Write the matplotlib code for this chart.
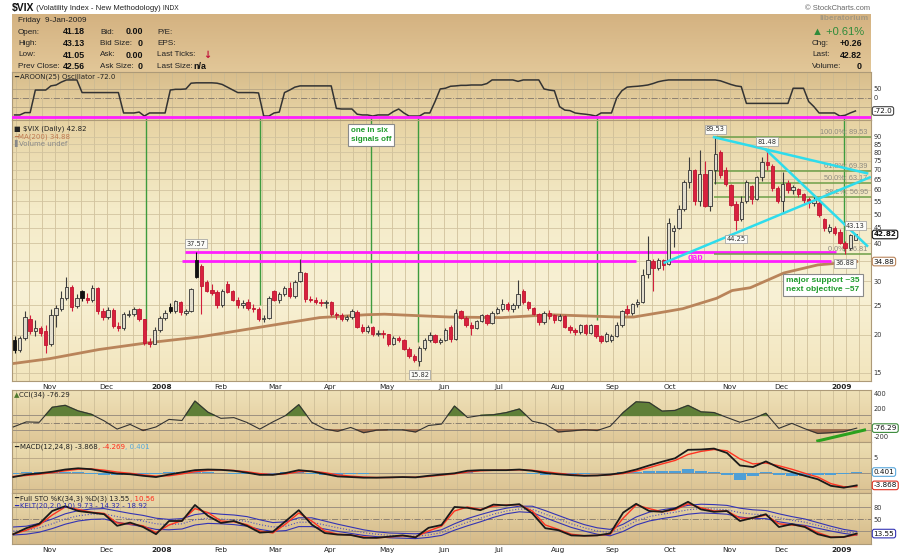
import numpy as np
import pandas as pd
import matplotlib
matplotlib.use("Agg")
import matplotlib.pyplot as plt
from matplotlib.colors import LinearSegmentedColormap

plt.rcParams["font.family"] = ["DejaVu Sans"]

# ---------------- values ----------------
# two-day candles from 12-Oct-2007 to 9-Jan-2009, one line per month
opens = [
    19.3, 17.9, 19.6, 22.6, 20.6, 21.0, 20.6,
    18.6, 23.2, 24.4, 26.4, 28.8, 24.9, 27.8, 26.5, 26.0, 28.5, 24.0,
    22.9, 24.2, 21.4, 21.0, 23.3, 23.4, 24.3, 22.5, 19.0, 18.7,
    20.8, 22.8, 24.8, 24.0, 25.6, 23.6, 24.0, 35.2, 33.8, 29.8, 28.2, 27.6,
    25.0, 29.5, 27.8, 26.1, 25.0, 25.6, 24.6, 24.3, 22.6, 22.8,
    27.8, 26.1, 27.3, 28.6, 26.8, 30.0, 32.0, 26.2, 26.0, 25.6, 25.4,
    25.6, 23.4, 23.2, 22.6, 22.9, 23.8, 21.3, 20.6, 21.2, 20.2, 20.3,
    20.1, 18.7, 19.5, 19.2, 18.0, 17.0, 16.4, 18.1, 19.3, 20.0, 19.0,
    19.3, 21.3, 19.4, 24.0, 22.8, 21.6, 21.0, 22.2, 23.2, 21.9,
    23.6, 24.3, 25.2, 24.4, 25.0, 27.8, 25.6, 24.5, 23.5, 22.0, 23.6, 23.2,
    22.4, 23.1, 21.3, 20.7, 20.4, 21.5, 20.3, 21.5, 19.8, 19.1, 19.3,
    19.9, 21.6, 24.4, 23.6, 25.2, 25.7, 31.8, 35.0, 33.2, 35.2, 34.2,
    44.0, 45.1, 52.1, 63.9, 70.0, 55.0, 67.6, 53.1, 69.6, 80.0, 69.9,
    62.5, 54.0, 48.0, 55.0, 62.0, 56.1, 66.3, 74.3, 72.0, 60.9,
    55.0, 63.5, 59.9, 60.5, 58.0, 56.0, 54.3, 54.3, 48.0, 43.8, 45.0, 43.5,
    40.0, 38.6, 41.18,
]
highs = [
    19.8, 19.9, 23.9, 23.2, 22.4, 21.4, 21.6,
    24.4, 25.0, 28.0, 31.1, 29.2, 27.3, 28.2, 27.5, 29.1, 28.8, 24.5,
    24.8, 24.5, 22.0, 23.8, 24.1, 24.8, 24.5, 22.6, 19.5, 21.2,
    23.1, 24.1, 25.4, 26.1, 25.9, 24.4, 28.6, 37.57, 34.2, 30.4, 29.5, 28.2,
    28.4, 30.0, 28.2, 26.6, 26.0, 26.2, 25.3, 24.8, 23.3, 26.8,
    28.2, 27.6, 29.0, 29.9, 30.4, 35.6, 32.3, 26.8, 26.6, 26.2, 26.1,
    25.8, 23.8, 23.6, 23.3, 24.4, 24.1, 21.7, 21.5, 21.4, 20.7, 20.8,
    20.2, 19.8, 19.9, 19.4, 18.2, 17.3, 18.4, 19.6, 20.4, 20.2, 19.6,
    21.0, 21.6, 24.3, 24.2, 23.0, 22.0, 22.4, 23.5, 23.4, 24.0,
    24.8, 26.2, 25.6, 25.5, 30.3, 28.3, 25.9, 24.8, 23.6, 24.0, 24.1, 23.4,
    23.4, 23.3, 21.5, 21.0, 21.8, 21.7, 21.7, 21.6, 20.0, 20.4, 20.2,
    22.0, 24.2, 25.0, 25.5, 26.2, 33.0, 42.2, 35.6, 35.8, 35.5, 48.4,
    46.0, 53.7, 64.9, 76.9, 70.3, 81.2, 74.6, 70.0, 89.53, 81.2, 71.5,
    63.0, 55.0, 57.5, 64.5, 62.5, 66.8, 77.0, 81.48, 73.0, 62.0,
    68.6, 64.5, 62.5, 61.0, 58.5, 57.0, 57.5, 55.5, 48.5, 46.5, 45.5, 44.5,
    40.8, 43.0, 43.13,
]
lows = [
    17.4, 17.6, 19.2, 20.1, 19.8, 19.9, 17.5,
    18.4, 21.2, 23.9, 26.0, 24.0, 24.5, 25.9, 25.5, 25.6, 23.4, 22.4,
    22.6, 21.0, 20.6, 20.8, 22.9, 23.0, 22.3, 18.5, 18.3, 18.6,
    20.5, 22.4, 23.6, 23.6, 23.3, 23.2, 23.8, 30.8, 23.5, 27.6, 27.0, 24.5,
    24.8, 27.4, 25.8, 24.5, 24.6, 24.2, 23.8, 22.3, 22.0, 22.5,
    25.8, 25.5, 26.9, 26.5, 26.4, 29.8, 25.7, 25.6, 25.2, 24.9, 24.6,
    23.0, 22.6, 22.3, 22.2, 22.6, 21.0, 20.3, 20.3, 19.9, 19.8, 19.6,
    18.4, 18.5, 18.9, 17.8, 16.8, 16.3, 15.82, 17.9, 19.0, 18.8, 18.6,
    19.1, 19.0, 19.2, 22.5, 21.3, 20.0, 20.9, 22.0, 21.5, 21.8,
    23.4, 24.0, 24.0, 23.8, 24.6, 25.3, 24.2, 23.2, 21.6, 21.8, 22.6, 21.9,
    22.2, 21.0, 20.3, 20.0, 20.1, 20.0, 20.1, 19.6, 18.8, 19.0, 19.0,
    19.7, 21.3, 23.2, 23.2, 24.8, 25.4, 30.8, 28.0, 32.6, 32.8, 34.0,
    38.8, 44.8, 51.0, 61.0, 53.5, 53.0, 52.8, 51.2, 63.0, 65.5, 62.0,
    53.0, 44.25, 47.5, 54.5, 54.0, 55.5, 64.0, 70.0, 59.5, 54.5,
    50.5, 58.5, 58.0, 57.0, 54.5, 52.5, 53.0, 49.0, 44.0, 43.2, 42.5, 39.8,
    36.88, 38.2, 41.05,
]
closes = [
    17.8, 19.6, 22.9, 20.6, 21.0, 20.3, 18.5,
    23.2, 24.5, 26.5, 28.8, 24.8, 26.4, 26.5, 26.0, 28.6, 24.0, 22.9,
    24.2, 21.4, 21.0, 23.5, 23.5, 24.4, 22.6, 18.8, 18.6, 20.8,
    22.8, 23.6, 24.0, 25.8, 23.8, 24.0, 28.3, 31.0, 29.0, 28.0, 27.5, 25.0,
    28.0, 27.7, 26.1, 25.0, 25.5, 24.6, 24.4, 22.6, 22.8, 26.5,
    26.1, 27.3, 28.6, 26.8, 29.9, 32.2, 26.2, 26.1, 25.6, 25.4, 25.6,
    23.4, 23.2, 22.6, 22.9, 23.9, 21.3, 20.6, 21.2, 20.2, 20.3, 20.1,
    18.7, 19.5, 19.2, 18.0, 17.0, 16.5, 18.1, 19.3, 20.0, 19.0, 19.3,
    20.7, 19.4, 23.6, 22.8, 21.6, 21.0, 22.2, 23.2, 21.9, 23.6,
    24.3, 25.2, 24.4, 25.0, 27.2, 25.6, 24.5, 23.5, 22.0, 23.6, 23.1, 22.4,
    23.1, 21.3, 20.7, 20.4, 21.5, 20.3, 21.5, 19.8, 19.1, 20.1, 19.9,
    21.6, 23.9, 23.6, 25.2, 25.7, 31.5, 35.4, 33.2, 35.2, 34.0, 46.7,
    45.1, 52.1, 63.9, 69.95, 55.0, 67.6, 53.0, 69.6, 79.1, 67.0, 62.9,
    53.7, 47.7, 54.6, 63.7, 56.1, 66.0, 74.3, 72.7, 60.9, 55.3,
    62.8, 59.9, 61.5, 58.0, 55.5, 54.3, 55.8, 49.8, 44.9, 45.2, 43.4, 40.0,
    38.6, 42.6, 42.82,
]
# Aroon(25) oscillator, one value per candle
aroon = [
    -94, -94, -81, -81, 44, 44, 44,
    67, 72, 88, 100, 100, 100, 30, 30, 30, 30, 30,
    30, 30, 30, -83, -83, -83, -78, -100, -83, -83,
    -83, -83, 44, 48, 48, 50, 82, 84, 84, 84, 84, 82,
    75, 60, 45, 30, 30, 30, 30, 28, -100, -100,
    -83, -78, 30, 44, 60, 67, 67, 67, 67, 67, 67,
    67, -58, -61, -61, -61, -90, -94, -94, -100, -94, -94,
    -94, -75, -61, -83, -100, -100, -100, -83, -83, -20, 50,
    54, 65, 67, 70, 70, 72, 72, 72, 80, 100,
    100, 100, 100, 100, 92, 100, 100, 100, 100, 50, 44, 40,
    -48, -67, -70, -83, -87, -90, -94, -100, -83, -83, -83,
    0, 40, 60, 63, 65, 68, 72, 80, 90, 96, 100,
    100, 100, 100, 100, 100, 100, 100, 100, 100, 95, 85,
    75, 67, 63, -30, -30, -30, -30, -30, -30, -30,
    -30, -30, 54, 54, 54, -20, -48, -83, -83, -83, -83, -100,
    -96, -83, -72,
]

ma_dates = ["2007-10-12", "2007-11-01", "2007-11-28", "2007-12-24", "2008-01-22",
            "2008-02-27", "2008-03-26", "2008-04-21", "2008-04-30", "2008-06-04",
            "2008-07-02", "2008-07-29", "2008-09-03", "2008-09-11", "2008-09-30",
            "2008-10-08", "2008-10-27", "2008-11-04", "2008-11-13", "2008-12-02",
            "2008-12-19", "2009-01-09"]
ma200 = [16.1, 16.7, 17.9, 18.8, 19.7, 21.4, 22.8, 23.3, 23.4, 22.9, 22.8, 23.3,
         22.9, 22.9, 23.9, 24.4, 26.4, 28.0, 28.6, 32.0, 34.0, 34.88]

# weekly (Friday) readings of the lower indicators
cci = [-60, 10, 5, 214, 241, 163, 117, 25, -90, -25, -110, -60, 45, 30, 300, 145,
       60, 70, 3, -90, 10, 100, 250, 5, -90, -120, -67, -140, -105, -99, -100, -130,
       -40, -20, 230, 72, 100, 110, 140, 190, 20, -20, -130, -115, -100, -110, -50,
       140, 290, 280, 160, 170, 240, 150, 140, 72, 5, 55, 130, -80, -10, -85, -150,
       -140, -125, -76.29]
macd = [-1.2, -0.4, 0.0, 0.5, 1.2, 1.6, 1.3, 0.5, -0.1, -0.3, -0.8, -1.2, -0.4, 0.3,
        1.0, 1.2, 1.1, 0.8, 0.2, -0.5, -0.5, 0.1, 1.0, 0.6, -0.2, -1.0, -1.2, -1.4,
        -1.4, -1.3, -1.2, -1.3, -0.8, -0.4, 0.0, 0.8, 1.0, 1.0, 1.0, 1.2, 0.8, 0.1,
        -0.3, -0.6, -0.8, -0.7, -0.4, 0.2, 1.2, 2.5, 3.7, 4.8, 7.5, 7.6, 7.9, 6.5,
        2.5, 2.0, 3.8, 1.8, 0.4, -0.8, -1.9, -4.0, -4.6, -3.868]
macd_signal = [-1.0, -0.7, -0.3, 0.2, 0.8, 1.3, 1.4, 1.0, 0.4, 0.0, -0.5, -0.9, -0.8,
               -0.2, 0.5, 0.9, 1.1, 0.9, 0.5, -0.1, -0.4, -0.2, 0.5, 0.7, 0.2, -0.5,
               -0.9, -1.2, -1.35, -1.35, -1.25, -1.25, -1.0, -0.6, -0.2, 0.4, 0.8,
               0.95, 1.0, 1.1, 0.95, 0.5, 0.0, -0.4, -0.7, -0.7, -0.5, -0.1, 0.7, 1.8,
               3.0, 4.1, 6.0, 7.0, 7.6, 7.2, 4.6, 3.0, 3.3, 2.4, 1.3, 0.0, -1.2, -3.3,
               -4.3, -4.269]
sto_k = [12, 27, 38, 70, 82, 70, 66, 62, 33, 41, 30, 12, 45, 45, 85, 58, 40, 45, 33,
         16, 18, 45, 72, 36, 15, 11, 10, 3, 3, 6, 9, 4, 28, 35, 80, 78, 72, 86, 84,
         87, 64, 27, 22, 9, 8, 9, 14, 66, 88, 70, 68, 76, 93, 74, 68, 70, 45, 53, 62,
         30, 37, 30, 12, 4, 5, 13.55]
sto_d = [12, 22, 35, 60, 80, 74, 67, 64, 40, 38, 33, 16, 35, 46, 76, 66, 45, 43, 36,
         20, 15, 38, 65, 45, 20, 12, 10, 5, 3, 5, 8, 5, 20, 32, 70, 80, 74, 82, 85,
         86, 70, 35, 24, 12, 8, 9, 12, 52, 85, 76, 68, 73, 88, 78, 70, 70, 52, 52, 60,
         38, 35, 32, 16, 5, 5, 10.56]
kelt_mid = [20, 22, 28, 38, 50, 58, 62, 63, 56, 50, 45, 38, 36, 38, 48, 52, 50, 48,
            44, 36, 30, 32, 42, 42, 35, 28, 22, 16, 12, 9, 8, 7, 10, 16, 30, 42, 52,
            62, 70, 75, 74, 62, 50, 38, 28, 20, 16, 28, 45, 56, 62, 67, 73, 76, 75,
            73, 66, 62, 61, 53, 47, 42, 34, 26, 19, 14.32]
kelt_width = [10, 10, 11, 12, 13, 13, 13, 13, 14, 14, 14, 14, 13, 13, 13, 13, 12, 12,
              12, 12, 11, 11, 11, 11, 10, 9, 8, 7, 6, 6, 6, 6, 6, 7, 8, 9, 9, 8, 7, 7,
              8, 9, 9, 9, 8, 8, 8, 9, 10, 11, 11, 11, 11, 11, 11, 11, 11, 11, 10, 10,
              9, 8, 7, 6, 5, 4.6]

price_ticks = [15, 20, 25, 30, 40, 45, 50, 55, 60, 65, 70, 75, 80, 85, 90]
month_labels = ["Nov", "Dec", "2008", "Feb", "Mar", "Apr", "May", "Jun", "Jul",
                "Aug", "Sep", "Oct", "Nov", "Dec", "2009"]

# drawn annotations
fib_start = "2008-10-24"
fib_levels = [89.53, 69.39, 63.17, 56.95, 36.81]
fib_names = ["100.0%: 89.53", "61.8%: 69.39", "50.0%: 63.17", "38.2%: 56.95", "0.0%: 36.81"]
signal_dates = ["2007-12-24", "2008-02-22", "2008-04-23", "2008-05-19", "2008-08-22", "2009-01-02"]
signal_lows = [20.8, 25.1, 21.9, 18.9, 22.4, 37.8]
trend_lines = [(("2008-10-24", 89.53), ("2009-01-15", 68.1)),
               (("2008-11-21", 81.48), ("2009-01-15", 39.3)),
               (("2008-09-29", 34.6), ("2009-01-16", 66.0))]
gap_lines = [(37.57, "2008-01-14", "2008-12-30"),
             (34.9, "2008-01-11", "2008-09-12"),
             (34.9, "2008-09-29", "2008-12-26")]
peak_dates = ["2008-01-18", "2008-10-24", "2008-11-21", "2009-01-09"]
trough_dates = ["2008-05-19", "2008-11-05", "2009-01-02"]

# ---------------- layout ----------------
W, H = 900, 557
days = pd.bdate_range("2007-10-12", "2009-01-16")


def pos(d):
    return days.get_loc(pd.Timestamp(d))


bx = np.arange(len(closes)) * 2 + 0.5
wx = np.array([pos(d) for d in pd.date_range("2007-10-12", "2009-01-09", freq="W-FRI")])
mondays = [i for i, d in enumerate(days) if d.weekday() == 0]
month_pos = [pos(d) for d in pd.date_range("2007-11-01", "2009-01-01", freq="BMS")]
XL = (-0.5, 330.5)

fig = plt.figure(figsize=(9, 5.57), dpi=100)
fig.patch.set_facecolor("white")
grad = np.linspace(0, 1, 128).reshape(-1, 1)


def shade(rect, colors):
    bg = fig.add_axes(rect)
    bg.imshow(grad, cmap=LinearSegmentedColormap.from_list("bg", colors),
              aspect="auto", extent=(0, 1, 0, 1), interpolation="bilinear")
    bg.set_axis_off()


def panel(top, bottom, colors, ylim, log=False):
    rect = [12 / W, 1 - bottom / H, 859 / W, (bottom - top) / H]
    shade(rect, colors)
    ax = fig.add_axes(rect)
    ax.patch.set_visible(False)
    if log:
        ax.set_yscale("log")
    ax.set_ylim(ylim)
    ax.set_xlim(XL)
    for m in mondays:
        ax.axvline(m, color="#c9b993", lw=0.5, zorder=1)
    ax.yaxis.tick_right()
    ax.tick_params(length=0, labelsize=4.8, labelcolor="#333333", pad=2)
    ax.set_xticks([])
    for s in ax.spines.values():
        s.set_color("#ad9a78")
        s.set_linewidth(0.8)
    return ax


def tag(ax, y, s, ec, weight="normal"):
    ax.text(1.003, y, s, transform=ax.get_yaxis_transform(), ha="left", va="center",
            fontsize=5.2, color="#111111", weight=weight, clip_on=False, zorder=9,
            bbox=dict(boxstyle="round,pad=0.18,rounding_size=0.3", fc="white", ec=ec, lw=0.8))


def month_axis(ax):
    ax.set_xticks(month_pos, month_labels)
    ax.tick_params(axis="x", labelsize=5.3, pad=2, labelcolor="#222222")
    for lab in ax.get_xticklabels():
        if lab.get_text().startswith("20"):
            lab.set_fontweight("bold")


# info box
shade([12 / W, 1 - 72 / H, 859 / W, 58 / H], ["#d4b281", "#e2c798"])

# Aroon panel
aa = panel(72, 120, ["#d8bd8b", "#e9d6a8"], (-122, 144))
aa.set_yticks([50, 0], ["50", "0"])
aa.axhline(50, color="#b5a383", lw=0.6)
aa.axhline(0, color="#8c8070", lw=0.7, ls="-.")
aa.axhline(-50, color="#b5a383", lw=0.6)
aa.plot(bx, aroon, color="#333333", lw=1.1, zorder=3)
aa.axhline(-103, color="#ff1eff", lw=2, zorder=4)
aa.vlines([pos(d) for d in signal_dates], -122, -103, color="#3d9b3d", lw=1, zorder=3)
tag(aa, -72, "-72.0", "#444444")

# price panel
ax = panel(120, 381, ["#e7d3a3", "#f4ebc8", "#f8f1d5", "#f2e5bd"], (14.1, 102), log=True)
ax.set_yticks(price_ticks, [str(t) for t in price_ticks])
ax.minorticks_off()
for t in price_ticks + [35]:
    ax.axhline(t, color="#d2c4a0", lw=0.6, zorder=1)
month_axis(ax)

ax.plot([pos(d) for d in ma_dates], ma200, color="#b9845a", lw=2, zorder=2.5)
ax.vlines([pos(d) for d in signal_dates], signal_lows, 102, color="#3d9b3d", lw=1, zorder=2.4)
for lvl, d0, d1 in gap_lines:
    ax.hlines(lvl, pos(d0), pos(d1), color="#ff1eff", lw=2, zorder=2.6)
ax.hlines(fib_levels, pos(fib_start), XL[1], color="#6e9f48", lw=1.1, zorder=2.6)
for lvl, name in zip(fib_levels, fib_names):
    ax.annotate(name, xy=(XL[1] - 1.3, lvl), xytext=(0, 1), textcoords="offset pixels",
                ha="right", va="bottom", fontsize=5.3, color="#8e8a80", family="Liberation Sans", zorder=2.7)

o, h, l, c = map(np.array, (opens, highs, lows, closes))
prev = np.r_[c[0], c[:-1]]
hollow = c >= o
red = ~hollow & (c < prev)
black = ~hollow & ~red
for mask, wick, face, edge in [(hollow, "#3c3c3c", "#e2ddcd", "#333333"),
                               (red, "#d21f3c", "#d8213e", "#c01530"),
                               (black, "#111111", "#111111", "#111111")]:
    ax.vlines(bx[mask], l[mask], h[mask], color=wick, lw=0.8, zorder=3)
    ax.bar(bx[mask], np.abs(c - o)[mask], bottom=np.minimum(o, c)[mask], width=1.3,
           facecolor=face, edgecolor=edge, lw=0.6, zorder=4)

for (d0, v0), (d1, v1) in trend_lines:
    ax.plot([pos(d0), pos(d1)], [v0, v1], color="#2edcec", lw=1.8, zorder=5)

box = dict(boxstyle="square,pad=0.2", fc="#fbfbf7", ec="#9a9a9a", lw=0.5)
for d in peak_dates:
    i = pos(d) // 2
    ax.annotate(f"{h[i]:.2f}", xy=(bx[i], h[i]), xytext=(0, 8), textcoords="offset pixels",
                ha="center", va="center", fontsize=4.8, color="#333333", bbox=box, zorder=7)
for d in trough_dates:
    i = pos(d) // 2
    ax.annotate(f"{l[i]:.2f}", xy=(bx[i], l[i]), xytext=(0, -9), textcoords="offset pixels",
                ha="center", va="center", fontsize=4.8, color="#333333", bbox=box, zorder=7)

note = dict(boxstyle="square,pad=0.35", fc="white", ec="#8a8a8a", lw=0.8)
ax.text(pos("2008-04-23"), 91, "one in six\nsignals off", ha="center", va="center",
        fontsize=5.8, weight="bold", color="#1e9b2b", family="Liberation Sans",
        linespacing=1.3, multialignment="left", bbox=note, zorder=8)
ax.text(pos("2008-12-23"), 29.2, "major support ~35\nnext objective ~57", ha="center",
        va="center", fontsize=6, weight="bold", color="#1e9b2b", family="Liberation Sans",
        linespacing=1.35, multialignment="left", bbox=note, zorder=8)
ax.text(pos("2008-10-15"), 35.9, "gap", ha="center", va="center", fontsize=6.3,
        weight="bold", color="#ff1eff", family="Liberation Sans", zorder=8)
tag(ax, 42.82, "42.82", "#111111", weight="bold")
tag(ax, 34.88, "34.88", "#b9845a")

# CCI panel
ca = panel(390, 442, ["#efe1b8", "#dfc797"], (-270, 455))
ca.set_yticks([400, 200, -200], ["400", "200", "-200"])
ca.axhline(100, color="#9c9080", lw=0.7)
ca.axhline(-100, color="#9c9080", lw=0.7)
ca.axhline(0, color="#8c8070", lw=0.7, ls="-.")
cc = np.array(cci)
ca.fill_between(wx, 100, cc, where=cc > 100, interpolate=True, color="#5f7f38", zorder=2)
ca.fill_between(wx, -100, cc, where=cc < -100, interpolate=True, color="#9a6a4c", zorder=2)
ca.plot(wx, cc, color="#333333", lw=0.8, zorder=3)
ca.plot([pos("2008-12-19"), pos("2009-01-14")], [-255, -103], color="#2aa11e", lw=2.2, zorder=4)
tag(ca, -76.29, "-76.29", "#3a8a3a")

# MACD panel
ma = panel(442, 493, ["#ecdeb2", "#dbc292"], (-6.3, 10))
ma.set_yticks([5], ["5"])
ma.axhline(5, color="#b5a383", lw=0.6)
ma.axhline(0, color="#9c9080", lw=0.7)
ma.axhline(-5, color="#b5a383", lw=0.6)
hist = np.array(macd) - np.array(macd_signal)
ma.bar(wx, hist, width=4.4, color="#4f9fd6", zorder=2)
ma.plot(wx, macd_signal, color="#ff3322", lw=1.0, zorder=3)
ma.plot(wx, macd, color="#1a1a1a", lw=1.3, zorder=4)
tag(ma, 0.401, "0.401", "#5aa8dc")
tag(ma, -3.868, "-3.868", "#e03020")

# Full STO panel
sa = panel(493, 544, ["#eadbae", "#d5b988"], (-12.5, 115))
sa.set_yticks([80, 50], ["80", "50"])
sa.axhline(80, color="#9c9080", lw=0.7)
sa.axhline(50, color="#8c8070", lw=0.7, ls="-.")
sa.axhline(20, color="#9c9080", lw=0.7)
km, kw = np.array(kelt_mid), np.array(kelt_width)
sa.plot(wx, km + kw, color="#3434b4", lw=0.8, zorder=2)
sa.plot(wx, km - kw, color="#3434b4", lw=0.8, zorder=2)
sa.plot(wx, km, color="#5252c4", lw=0.8, ls=":", zorder=2)
sa.plot(wx, sto_d, color="#ff3322", lw=1.0, zorder=3)
sa.plot(wx, sto_k, color="#1a1a1a", lw=1.3, zorder=4)
month_axis(sa)
tag(sa, 13.55, "13.55", "#3434b4")

# ---------------- text overlay (pixel coordinates) ----------------
ov = fig.add_axes([0, 0, 1, 1])
ov.set_xlim(0, W)
ov.set_ylim(H, 0)
ov.set_axis_off()


def chain(x, y, parts, size=5.0, family="DejaVu Sans", weight="normal"):
    t = ov.text(x, y, parts[0][0], color=parts[0][1], fontsize=size, family=family,
                weight=weight, va="center", ha="left")
    for s, col in parts[1:]:
        t = ov.annotate(s, xy=(1, 0.5), xycoords=t, va="center", ha="left", color=col,
                        fontsize=size, family=family, weight=weight)
    return t


t = ov.text(12, 8, "$VIX", fontsize=7.5, weight="bold", family="Liberation Sans",
            va="center", color="#111111")
t = ov.annotate(" (Volatility Index - New Methodology)", xy=(1, 0.45), xycoords=t,
                va="center", fontsize=5.6, family="Liberation Sans", color="#222222")
ov.annotate(" INDX", xy=(1, 0.5), xycoords=t, va="center", fontsize=4.8,
            family="Liberation Sans", color="#222222")
ov.text(870, 8, "\u00a9 StockCharts.com", ha="right", va="center", fontsize=5.4,
        family="Liberation Sans", color="#666666")

info = dict(fontsize=5.9, family="Liberation Sans", va="center", color="#222222")
ov.text(18, 21, "Friday  9-Jan-2009", **info)
rows = [32, 43.5, 55, 66.5]
for y, a, av, b, bv, cl in zip(rows,
                               ["Open:", "High:", "Low:", "Prev Close:"],
                               ["41.18", "43.13", "41.05", "42.56"],
                               ["Bid:", "Bid Size:", "Ask:", "Ask Size:"],
                               ["0.00", "0", "0.00", "0"],
                               ["P/E:", "EPS:", "Last Ticks:", "Last Size:"]):
    ov.text(18, y, a, **info)
    ov.text(85, y, av, ha="right", weight="bold", fontsize=6.4, family="Liberation Sans",
            va="center", color="#111111")
    ov.text(100, y, b, **info)
    ov.text(143, y, bv, ha="right", weight="bold", fontsize=6.4, family="Liberation Sans",
            va="center", color="#111111")
    ov.text(157, y, cl, **info)
ov.text(203, 55, "\u2193", fontsize=7, weight="bold", color="#c0123a", va="center")
ov.text(193, 66.5, "n/a", weight="bold", fontsize=6.4, family="Liberation Sans",
        va="center", color="#111111")

ov.text(868, 19, "liberatorium", ha="right", va="center", fontsize=6, weight="bold",
        family="Liberation Sans", color="#a3977f")
ov.text(864, 32, "\u25b2 +0.61%", ha="right", va="center", fontsize=8,
        family="Liberation Sans", color="#2e8b3a")
for y, a, v in zip(rows[1:], ["Chg:", "Last:", "Volume:"], ["+0.26", "42.82", "0"]):
    ov.text(812, y, a, **info)
    ov.text(862, y, v, ha="right", weight="bold", fontsize=6.4, family="Liberation Sans",
            va="center", color="#111111")

chain(14, 77, [("\u2501 ", "#222222"), ("AROON(25) Oscillator -72.0", "#222222")])
chain(14, 129, [("\u25a0 ", "#222222"), ("$VIX (Daily) 42.82", "#222222")])
chain(14, 136.5, [("\u2501", "#c07a50"), ("MA(200) 34.88", "#c07a50")])
chain(14, 143.5, [("\u258c", "#888888"), ("Volume undef", "#888888")])
chain(14, 395, [("\u25b2", "#4f7a2f"), ("CCI(34) -76.29", "#222222")])
chain(14, 447, [("\u2501 ", "#222222"), ("MACD(12,24,8) -3.868", "#222222"),
                (", -4.269", "#ff2a1a"), (", 0.401", "#55a8dc")])
chain(14, 498.5, [("\u2501 ", "#222222"), ("Full STO %K(34,3) %D(3) 13.55", "#222222"),
                  (", 10.56", "#ff2a1a")])
chain(14, 506, [("\u2501 ", "#2c2cb0"), ("KELT(20,2.0,10) 9.73 - 14.32 - 18.92", "#2c2cb0")])

fig.savefig("out.png", dpi=100)
